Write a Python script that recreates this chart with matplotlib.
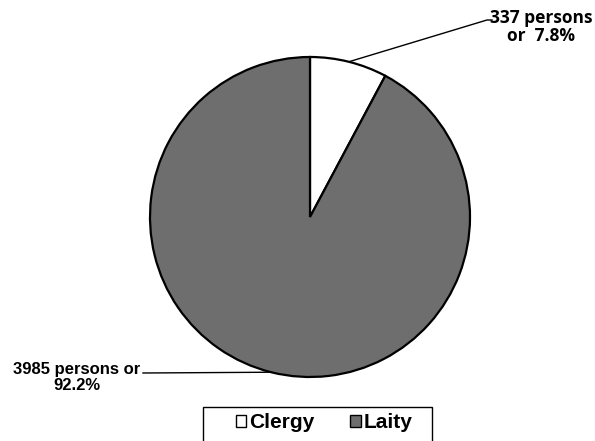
import numpy as np
import matplotlib
matplotlib.use("Agg")
import matplotlib.pyplot as plt
from matplotlib.patches import Patch, Rectangle
from matplotlib.lines import Line2D

categories = ["Clergy", "Laity"]
counts = [337, 3985]
colors = ["#ffffff", "#6e6e6e"]

W, H = 595, 441
fig = plt.figure(figsize=(W / 100, H / 100), dpi=100)
fig.patch.set_facecolor("white")

cx, cy, R = 310, 217, 160
ax = fig.add_axes([(cx - R) / W, (H - cy - R) / H, 2 * R / W, 2 * R / H])

wedges, _ = ax.pie(counts, colors=colors, startangle=90, counterclock=False,
                   radius=1, wedgeprops=dict(edgecolor="black", linewidth=1.6))
ax.set_xlim(-1, 1)
ax.set_ylim(-1, 1)
ax.set_aspect("equal")
ax.axis("off")

total = sum(counts)
pcts = [c / total * 100 for c in counts]

def fig_px(x, y_img):
    return (x / W, (H - y_img) / H)

# Clergy label
w = wedges[0]
ang = np.deg2rad((w.theta1 + w.theta2) / 2)
p0 = ax.transData.transform((np.cos(ang), np.sin(ang)))
p0 = fig.transFigure.inverted().transform(p0)
p1 = fig_px(487, 20)
p2 = fig_px(492, 20)
fig.add_artist(Line2D([p0[0], p1[0], p2[0]], [p0[1], p1[1], p2[1]],
                      color="black", linewidth=1.0, transform=fig.transFigure))
fig.text(*fig_px(541, 9), f"{counts[0]} persons\nor  {pcts[0]:.1f}%",
         ha="center", va="top", fontsize=12.5, fontweight="bold",
         family="Open Sans", linespacing=1.0)

# Laity label
w = wedges[1]
ang = np.deg2rad((w.theta1 + w.theta2) / 2)
p0 = ax.transData.transform((np.cos(ang), np.sin(ang)))
p0 = fig.transFigure.inverted().transform(p0)
p1 = fig_px(143, 373)
fig.add_artist(Line2D([p0[0], p1[0]], [p0[1], p1[1]],
                      color="black", linewidth=1.0, transform=fig.transFigure))
fig.text(*fig_px(77, 362), f"{counts[1]} persons or\n{pcts[1]:.1f}%",
         ha="center", va="top", fontsize=12, fontweight="bold",
         family="Liberation Sans", linespacing=1.1)

# Legend frame
x0, y0 = fig_px(203, 445)
x1, y1 = fig_px(432, 407)
fig.add_artist(Rectangle((x0, y0), x1 - x0, y1 - y0, transform=fig.transFigure,
                         facecolor="white", edgecolor="black", linewidth=1.0,
                         zorder=1))

handles = [Patch(facecolor=c, edgecolor="black", linewidth=1.0) for c in colors]
leg = fig.legend(handles, categories, loc="center left",
                 bbox_to_anchor=fig_px(236, 423), ncol=2, frameon=False,
                 handlelength=0.5, handleheight=0.5, handletextpad=0.15,
                 columnspacing=1.7, borderpad=0, borderaxespad=0,
                 prop=dict(family="Liberation Sans", weight="bold", size=15))
leg.set_zorder(3)

fig.savefig("out.png", dpi=100, facecolor="white")
